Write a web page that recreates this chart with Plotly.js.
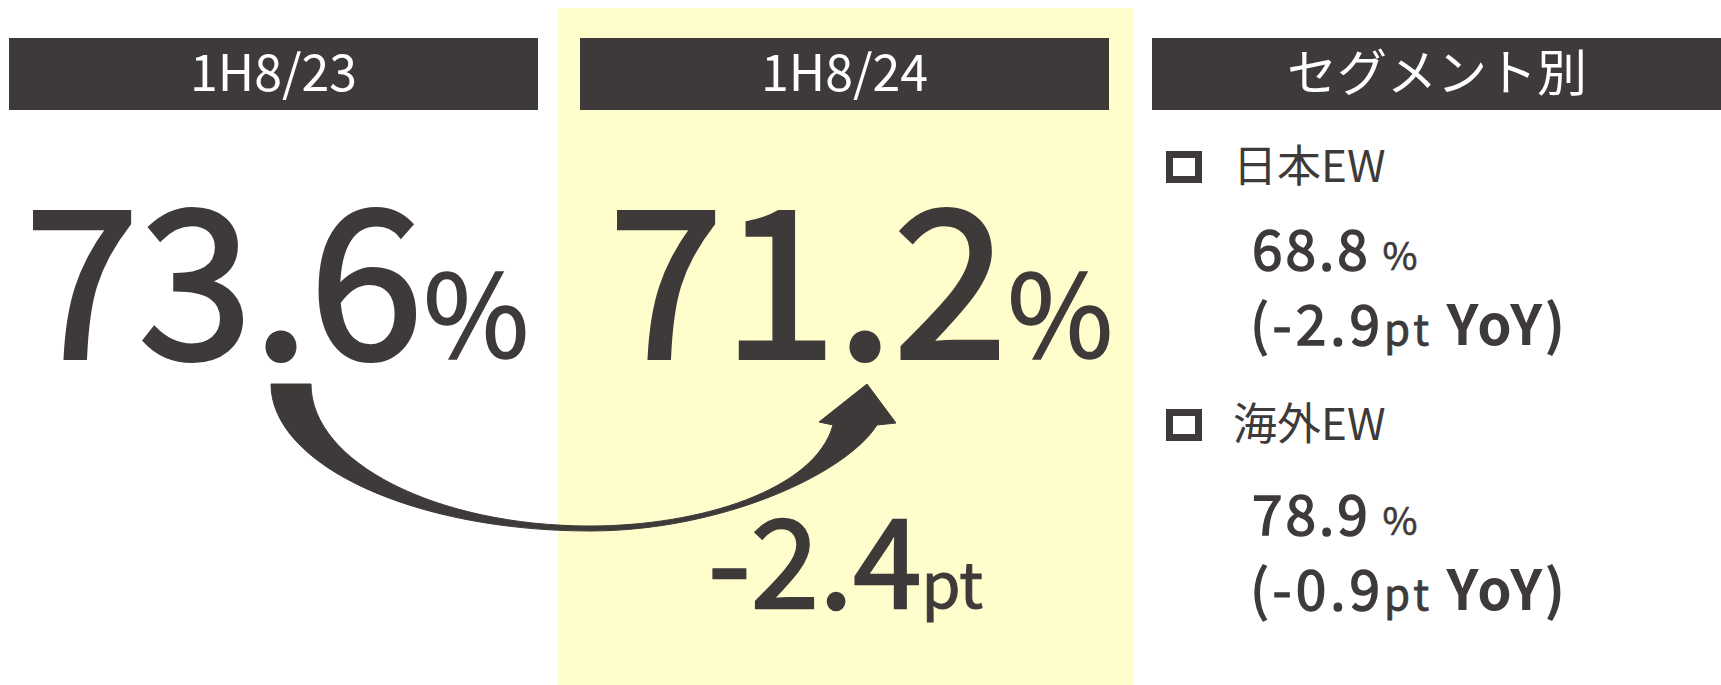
<!DOCTYPE html>
<html><head><meta charset="utf-8">
<script src="https://cdn.plot.ly/plotly-3.0.1.min.js"></script>
<style>html,body{margin:0;padding:0;background:#fff;overflow:hidden}</style>
</head><body><div id="chart" style="width:1721px;height:685px"></div>
<script>
// ---- data ----
const periods = ['1H8/23', '1H8/24'];
const ratios = [73.6, 71.2];
const changePt = -2.4;
const segmentHeader = 'セグメント別';
const segments = ['日本EW', '海外EW'];
const segmentRatios = [68.8, 78.9];
const segmentYoY = [-2.9, -0.9];

// ---- layout constants ----
const W = 1721, H = 685;
const DARK = '#3e3a39', YELLOW = '#fffdcc';
const FONT = '"Noto Sans CJK JP", "Noto Sans", sans-serif';
const DESC = 0.288;
const NB = '\u00a0';

function txt(text, x, baseline, size, opts) {
  const o = {
    text: text, x: x, y: baseline + DESC * size, xref: 'x', yref: 'y',
    xanchor: 'left', yanchor: 'bottom', showarrow: false,
    font: { family: FONT, size: size, color: DARK, weight: 400 }, borderpad: 0, borderwidth: 0
  };
  return Object.assign(o, opts || {});
}
function fmt(v) { return (v < 0 ? '-' : '') + Math.abs(v).toFixed(1); }
function span(s, style) { return '<span style="' + style + '">' + s + '</span>'; }
function heavy(w) { return 'stroke:' + DARK + ';stroke-width:' + w + 'px;stroke-linejoin:miter;'; }

const headers = [
  { x0: 9, x1: 538, label: periods[0] },
  { x0: 580, x1: 1109, label: periods[1] },
  { x0: 1152, x1: W, label: segmentHeader }
];
const HY0 = 38, HY1 = 110;

const shapes = [];
// highlighted current-period column
shapes.push({ type: 'rect', xref: 'x', yref: 'y', x0: 558, x1: 1134, y0: 8, y1: H + 5,
  fillcolor: YELLOW, line: { width: 0 }, layer: 'below' });
headers.forEach(h => shapes.push({ type: 'rect', xref: 'x', yref: 'y', x0: h.x0, x1: h.x1,
  y0: HY0, y1: HY1, fillcolor: DARK, line: { width: 0 }, layer: 'below' }));

// curved arrow from the previous value to the current value
const arrowPath = [
  'M 271 384', 'L 311 384',
  'C 311 462 436 526 590 526',
  'C 700 526 815 490 833 425',
  'L 819 422', 'L 867 384', 'L 896 423', 'L 877 425',
  'C 845 475 720 531 590 531',
  'C 414 531 271 465 271 384', 'Z'
].join(' ');
shapes.push({ type: 'path', xref: 'x', yref: 'y', path: arrowPath,
  fillcolor: DARK, line: { color: DARK, width: 1 } });

const ann = [];
headers.forEach(h => ann.push(txt(h.label, (h.x0 + h.x1) / 2, 91, 50,
  { xanchor: 'center', font: { family: FONT, size: 50, color: '#ffffff', weight: 400 } })));

// big values
const bigX = [25, 609];
ratios.forEach((v, i) => ann.push(txt(span(fmt(v), heavy(4)) +
  span('%', 'font-size:115px;' + heavy(1.5)), bigX[i], 358, 205)));
// change between periods
ann.push(txt(span(fmt(changePt), heavy(2.5)) + span('pt', 'font-size:63px;' + heavy(1)),
  708, 608, 123));

// segments
const segBase = [182, 440];
const valBase = [270, 535];
const yoyBase = [345, 610];
segments.forEach((s, i) => {
  // square bullet
  shapes.push({ type: 'rect', xref: 'x', yref: 'y', x0: 1169.5, x1: 1198.5,
    y0: segBase[i] - 27.5, y1: segBase[i] - 2.5, fillcolor: 'rgba(0,0,0,0)',
    line: { color: DARK, width: 7 } });
  ann.push(txt(s, 1233, segBase[i], 44));
  ann.push(txt(span(fmt(segmentRatios[i]), 'letter-spacing:3px;' + heavy(1.5)) +
    span(NB, 'font-size:38px;letter-spacing:3px') + span('%', 'font-size:38px;' + heavy(0.6)),
    1252, valBase[i], 55));
  ann.push(txt(span('(' + fmt(segmentYoY[i]), 'letter-spacing:4px;' + heavy(1.5)) +
    span('pt' + NB, 'font-size:42px;letter-spacing:4px;' + heavy(0.8)) +
    span('YoY)', 'letter-spacing:2px;font-weight:600'),
    1250, yoyBase[i], 55));
});

const layout = {
  width: W, height: H,
  margin: { l: 0, r: 0, t: 0, b: 0, pad: 0 },
  paper_bgcolor: '#ffffff', plot_bgcolor: '#ffffff',
  xaxis: { range: [0, W], visible: false, fixedrange: true },
  yaxis: { range: [H, 0], visible: false, fixedrange: true },
  showlegend: false,
  shapes: shapes,
  annotations: ann
};
Plotly.newPlot('chart', [], layout, { displayModeBar: false, staticPlot: true });
</script></body></html>
